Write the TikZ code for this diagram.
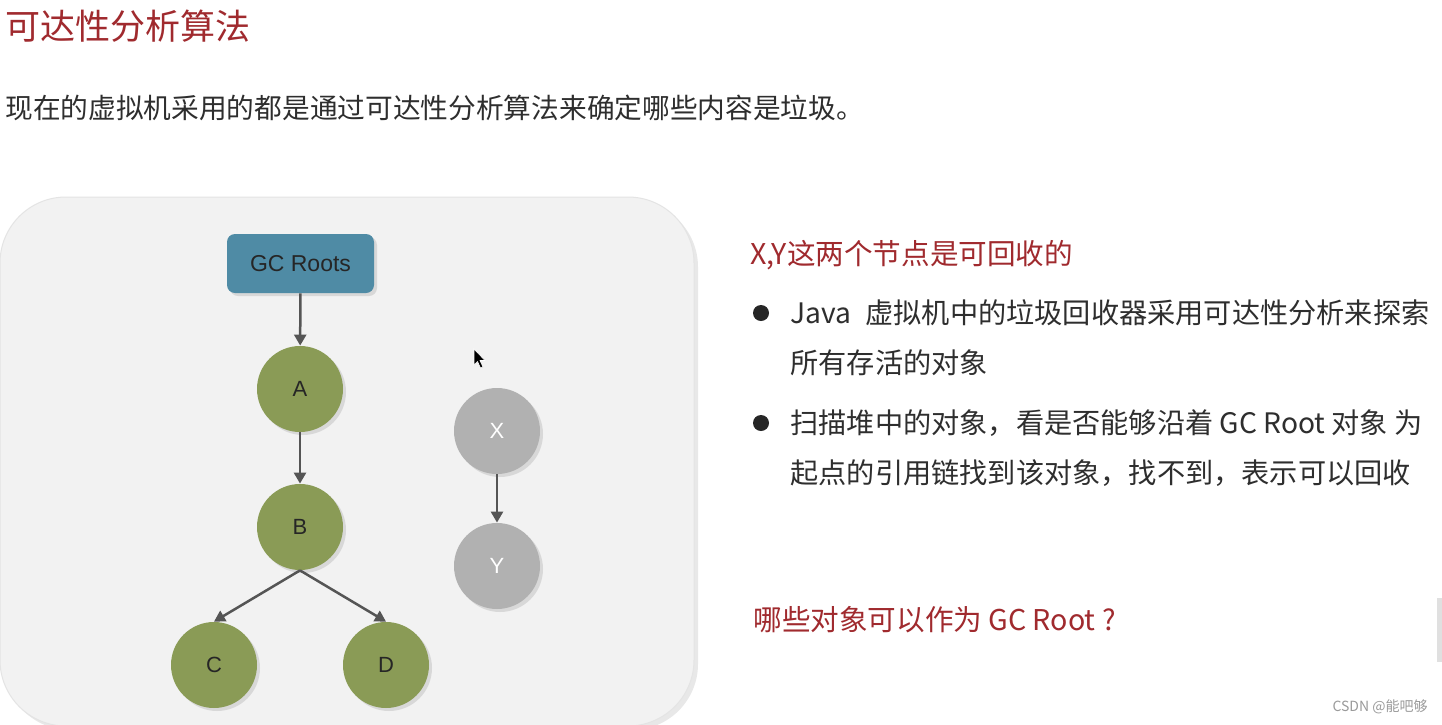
\documentclass[tikz,border=0pt]{standalone}
\usepackage{fontspec}
\newfontfamily\cjk{Noto Sans CJK SC}
\newfontfamily\arialf{Liberation Sans}
\usetikzlibrary{arrows.meta,shadows}
\definecolor{panelbg}{HTML}{F2F2F2}
\definecolor{paneledge}{HTML}{E4E4E4}
\definecolor{rootblue}{HTML}{4F8BA5}
\definecolor{livegreen}{HTML}{8A9B56}
\definecolor{deadgray}{HTML}{B1B1B1}
\definecolor{connc}{HTML}{555555}
\definecolor{redtext}{RGB}{160,42,46}
\definecolor{bodytext}{HTML}{2E2E2E}
\definecolor{wmgray}{HTML}{9A9A9A}
\tikzset{
  shadowed/.style={drop shadow={opacity=0.22, shadow xshift=1.5pt, shadow yshift=-1.5pt}},
  panelshadow/.style={drop shadow={opacity=0.18, shadow xshift=2pt, shadow yshift=-2pt}},
  rootbox/.style={shadowed, fill=rootblue, rounded corners=4pt, minimum width=73.5pt, minimum height=29.5pt, inner sep=0pt, font=\arialf\fontsize{11.5pt}{13pt}\selectfont, text=black!85},
  live/.style={shadowed, circle, fill=livegreen, minimum size=43pt, inner sep=0pt, font=\arialf\fontsize{11pt}{13pt}\selectfont, text=black!85},
  dead/.style={shadowed, circle, fill=deadgray, minimum size=43pt, inner sep=0pt, font=\arialf\fontsize{11pt}{13pt}\selectfont, text=white},
  conn/.style={draw=connc, line width=1.25pt, -{Triangle[length=5.5pt,width=6pt]}},
  titletext/.style={anchor=west, inner sep=0pt, text=redtext, font=\cjk\fontsize{17.5pt}{20pt}\selectfont},
  subtext/.style={anchor=west, inner sep=0pt, text=bodytext, font=\cjk\fontsize{13.85pt}{16pt}\selectfont},
  redline/.style={anchor=west, inner sep=0pt, text=redtext, font=\cjk\fontsize{14.3pt}{16pt}\selectfont},
  bodyline/.style={anchor=west, inner sep=0pt, text=bodytext, font=\cjk\fontsize{14.1pt}{16pt}\selectfont},
  bulletdot/.style={circle, fill=black!85, minimum size=8pt, inner sep=0pt},
  watermark/.style={anchor=east, inner sep=0pt, text=wmgray, font=\cjk\fontsize{7pt}{8pt}\selectfont},
}
\begin{document}
\begin{tikzpicture}[x=0.5pt,y=-0.5pt]
\clip (0,0) rectangle (1442,724);
\fill[white] (0,0) rectangle (1442,724);
% panel
\draw[panelshadow, fill=panelbg, draw=paneledge, line width=0.5pt, rounded corners=33pt] (0,197) rectangle (694,726);
% right-edge faint mark
\fill[black!12] (1437,598) rectangle (1442,662);
% title and subtitle
\node[titletext] (title) at (5,26) {可达性分析算法};
\node[subtext] (sub) at (5,108) {现在的虚拟机采用的都是通过可达性分析算法来确定哪些内容是垃圾。};
% graph
\node[rootbox] (gc) at (300.5,263.5) {GC Roots};
\node[live] (A) at (300,389) {A};
\node[live] (B) at (300,527) {B};
\node[live] (C) at (214,665) {C};
\node[live] (D) at (386,665) {D};
\node[dead] (X) at (497,431) {X};
\node[dead] (Y) at (497,566) {Y};
\draw[conn] (gc) -- (A);
\draw[conn] (A) -- (B);
\draw[conn] (B.south) -- (C.north);
\draw[conn] (B.south) -- (D.north);
\draw[conn] (X) -- (Y);
% mouse cursor
\filldraw[fill=black, draw=white, line width=0.3pt] (474,349) -- (474,365) -- (477.5,361.5) -- (480.5,368) -- (483,367) -- (480,360.5) -- (485,360.5) -- cycle;
% right text
\node[redline] (h1) at (750,255) {X,Y这两个节点是可回收的};
\node[bulletdot] (b1) at (761,313) {};
\node[bodyline] (l1) at (790,313) {Java\hspace{0.5em}虚拟机中的垃圾回收器采用可达性分析来探索};
\node[bodyline] (l2) at (790,363) {所有存活的对象};
\node[bulletdot] (b2) at (761,423) {};
\node[bodyline] (l3) at (790,423) {扫描堆中的对象，看是否能够沿着 GC Root 对象 为};
\node[bodyline] (l4) at (790,473) {起点的引用链找到该对象，找不到，表示可以回收};
\node[redline] (q) at (753,620) {哪些对象可以作为 GC Root ?};
\node[watermark] (wm) at (1428,707) {CSDN @能吧够};
\end{tikzpicture}
\end{document}
